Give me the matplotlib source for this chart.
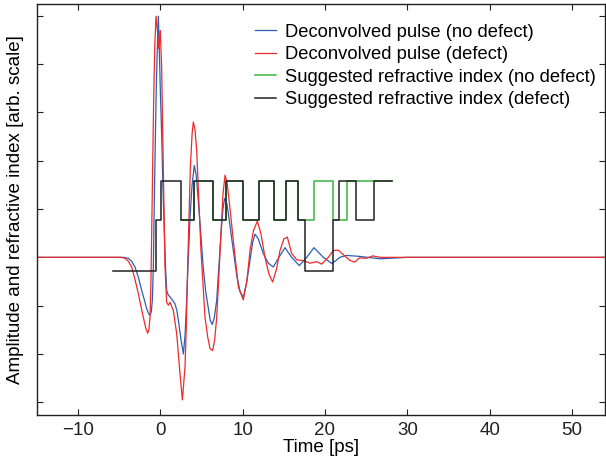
import numpy as np
import matplotlib
matplotlib.use("Agg")
import matplotlib.pyplot as plt

plt.rcParams['font.family'] = ['Liberation Sans', 'DejaVu Sans']

# deconvolved pulse, no defect (time [ps], amplitude)
t_blue = [-15, -6, -4.5, -3.9, -3.5, -3.09, -2.7, -2.28, -1.95, -1.67, -1.45, -1.26, -1.1,
          -0.98, -0.86, -0.74, -0.6, -0.49, -0.35, -0.25, -0.13, 0.0, 0.15, 0.3, 0.48, 0.62,
          0.76, 0.95, 1.17, 1.45, 1.77, 2.0, 2.18, 2.5, 2.79, 3.0, 3.19, 3.4, 3.6, 3.85,
          4.12, 4.35, 4.6, 4.9, 5.2, 5.5, 5.8, 6.05, 6.3, 6.55, 6.84, 7.1, 7.36, 7.6, 7.8,
          8.1, 8.5, 8.86, 9.3, 9.7, 10.08, 10.5, 10.89, 11.2, 11.5, 11.9, 12.5, 13.1,
          13.72, 14.4, 15.14, 15.95, 16.88, 17.78, 18.66, 19.8, 20.85, 21.8, 22.6, 24.2,
          26.7, 30, 54]
y_blue = [0, 0, 0, -0.02, -0.08, -0.2, -0.4, -0.68, -0.88, -1.06, -1.16, -1.2, -1.12,
          -0.89, -0.2, 1.18, 2.6, 3.6, 4.5, 4.99, 4.28, 3.4, 2.56, 1.5, 0.5, -0.2,
          -0.68, -0.78, -0.82, -0.88, -0.96, -1.1, -1.3, -1.7, -2.0, -1.6, -0.89, 0.0, 0.83, 1.5,
          1.9, 1.7, 1.18, 0.5, -0.2, -0.7, -1.03, -1.3, -1.39, -1.25, -0.89, -0.2, 0.49, 1.0, 1.22,
          1.1, 0.6, 0.14, -0.4, -0.72, -0.83, -0.5, -0.06, 0.3, 0.48, 0.38, 0.08, -0.12,
          -0.2, 0.0, 0.2, 0.0, -0.17, 0.0, 0.2, 0.0, -0.13, 0.0, 0.04, 0.02,
          -0.03, 0.0, 0.0]

# deconvolved pulse, defect
t_red = [-15, -6, -4.8, -4.3, -3.9, -3.49, -3.1, -2.68, -2.38, -2.08, -1.8, -1.55, -1.4,
         -1.26, -1.16, -1.06, -0.94, -0.82, -0.68, -0.53, -0.33, -0.21, -0.1, -0.01, 0.15,
         0.35, 0.56, 0.76, 0.97, 1.17, 1.57, 1.98, 2.38, 2.67, 2.99, 3.15, 3.31, 3.64, 3.85,
         4.0, 4.2, 4.41, 4.93, 5.42, 5.75, 6.03, 6.35, 6.6, 6.84, 7.1, 7.36, 7.6, 7.85,
         8.1, 8.4, 8.86, 9.47, 10.07, 10.5, 10.89, 11.3, 11.78, 12.2, 12.71, 13.2, 13.64,
         14.1, 14.53, 15.0, 15.42, 15.95, 16.56, 17.37, 18.18, 18.99, 19.6, 20.4, 21.0,
         21.6, 22.2, 23.0, 23.6, 24.2, 25.0, 25.8, 26.7, 30, 54]
y_red = [0, 0, 0, -0.02, -0.08, -0.2, -0.45, -0.75, -1.0, -1.24, -1.45, -1.57, -1.5,
         -1.24, -0.6, 0.49, 1.9, 3.25, 4.4, 4.99, 4.64, 4.32, 4.5, 4.69, 3.94,
         1.87, -0.2, -0.93, -0.99, -0.93, -1.1, -1.58, -2.41, -2.95, -2.27, -1.4, -0.2, 1.87, 2.55,
         2.8, 2.65, 2.21, 0.14, -1.24, -1.65, -1.89, -1.93, -1.7, -1.24, -0.4, 0.49, 1.3, 1.7,
         1.55, 1.1, 0.35, -0.61, -0.88, -0.5, 0.14, 0.55, 0.75, 0.5, 0.0, -0.35, -0.51,
         -0.25, 0.14, 0.38, 0.42, 0.08, -0.05, -0.07, -0.12, -0.09, -0.14, 0.0, 0.14,
         0.15, 0.06, -0.06, -0.1, -0.01, -0.02, 0.03, 0.0, 0.0, 0.0]

# suggested refractive index, step edges and levels
t_idx_nd = [2.55, 4.07, 6.35, 7.97, 10.08, 12.02, 13.8, 15.26, 16.76, 18.66, 21.0, 22.64, 28.1]
n_idx_nd = [0.77, 1.59, 0.77, 1.59, 0.77, 1.59, 0.77, 1.59, 0.77, 1.59, 0.77, 1.59, 1.59]

t_idx_d = [-5.8, -0.5, 0.05, 2.55, 4.07, 6.35, 7.97, 10.08, 12.02, 13.8, 15.26, 16.76,
           17.57, 21.0, 21.74, 23.77, 25.95, 28.1]
n_idx_d = [-0.28, 0.77, 1.59, 0.77, 1.59, 0.77, 1.59, 0.77, 1.59, 0.77, 1.59, 0.77,
           -0.28, 0.77, 1.59, 0.77, 1.59, 1.59]

fig = plt.figure(figsize=(6.06, 4.61), dpi=100)
ax = fig.add_axes([0.061, 0.099, 0.937, 0.892])

lw = 0.9
ax.plot(t_blue, y_blue, color='#2b5fb4', lw=lw, label='Deconvolved pulse (no defect)')
ax.plot(t_red, y_red, color='#ee2a2a', lw=lw, label='Deconvolved pulse (defect)')
ax.step(t_idx_nd, n_idx_nd, where='post', color='#3cb43c', lw=1.1,
        label='Suggested refractive index (no defect)')
ax.step(t_idx_d, n_idx_d, where='post', color='#222222', lw=1.1,
        label='Suggested refractive index (defect)')

ax.set_xlim(-15, 54)
ax.set_ylim(-3.27, 5.24)
ax.set_xticks(np.arange(-10, 51, 10))
ax.set_yticks(np.arange(-3, 6, 1))
ax.set_yticklabels([])
ax.tick_params(direction='in', top=True, right=True, length=4, width=0.8,
               labelsize=13.5, colors='#222222', pad=5)
for s in ax.spines.values():
    s.set_linewidth(1.0)
    s.set_color('#222222')

ax.set_xlabel('Time [ps]', fontsize=13.5, labelpad=0)
ax.set_ylabel('Amplitude and refractive index [arb. scale]', fontsize=13.5, labelpad=4)

ax.legend(loc='upper right', bbox_to_anchor=(1.0, 0.975), frameon=False, fontsize=13.2,
          handlelength=1.1, handletextpad=0.5, labelspacing=0.3, borderaxespad=0.1)

fig.savefig('out.png', dpi=100)
